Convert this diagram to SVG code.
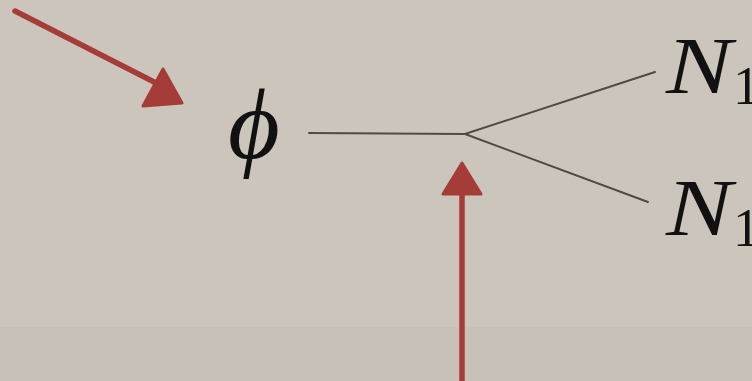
<svg xmlns="http://www.w3.org/2000/svg" width="752" height="381" viewBox="0 0 752 381">
<style>
.bg{fill:#ccc5bc}
.math{font-family:"Liberation Serif","DejaVu Serif",serif;font-style:italic;fill:#111}
.sub{font-family:"Liberation Serif","DejaVu Serif",serif;fill:#111}
.edge{stroke:#4e4a46;stroke-width:2;fill:none;stroke-linecap:round}
.red{stroke:#a63c37;stroke-width:5.5;fill:none;stroke-linecap:round}
.head{fill:#a63c37;stroke:#a63c37;stroke-width:3;stroke-linejoin:round}
</style>
<rect class="bg" x="0" y="0" width="752" height="381"/>
<rect x="0" y="327" width="752" height="54" fill="#c8c1b7"/>
<g id="phi"><text class="math" x="228" y="158" font-size="100">ϕ</text></g>
<g id="n1-top"><text class="math" x="666" y="93" font-size="80" textLength="66" lengthAdjust="spacingAndGlyphs">N</text><text class="sub" x="733" y="104" font-size="54">1</text></g>
<g id="n1-bottom"><text class="math" x="666" y="235" font-size="80" textLength="66" lengthAdjust="spacingAndGlyphs">N</text><text class="sub" x="733" y="246" font-size="54">1</text></g>
<g id="connectors">
<path class="edge" d="M309 133 L465 134 L655 72"/>
<path class="edge" d="M465 134 L648 202"/>
</g>
<g id="arrow-left">
<path class="red" d="M15 11 L158 84"/>
<polygon class="head" points="163,69 143,106 182,103"/>
</g>
<g id="arrow-up">
<path class="red" d="M462 380 L462 190"/>
<polygon class="head" points="462,163 443,194 481,194"/>
</g>
</svg>
